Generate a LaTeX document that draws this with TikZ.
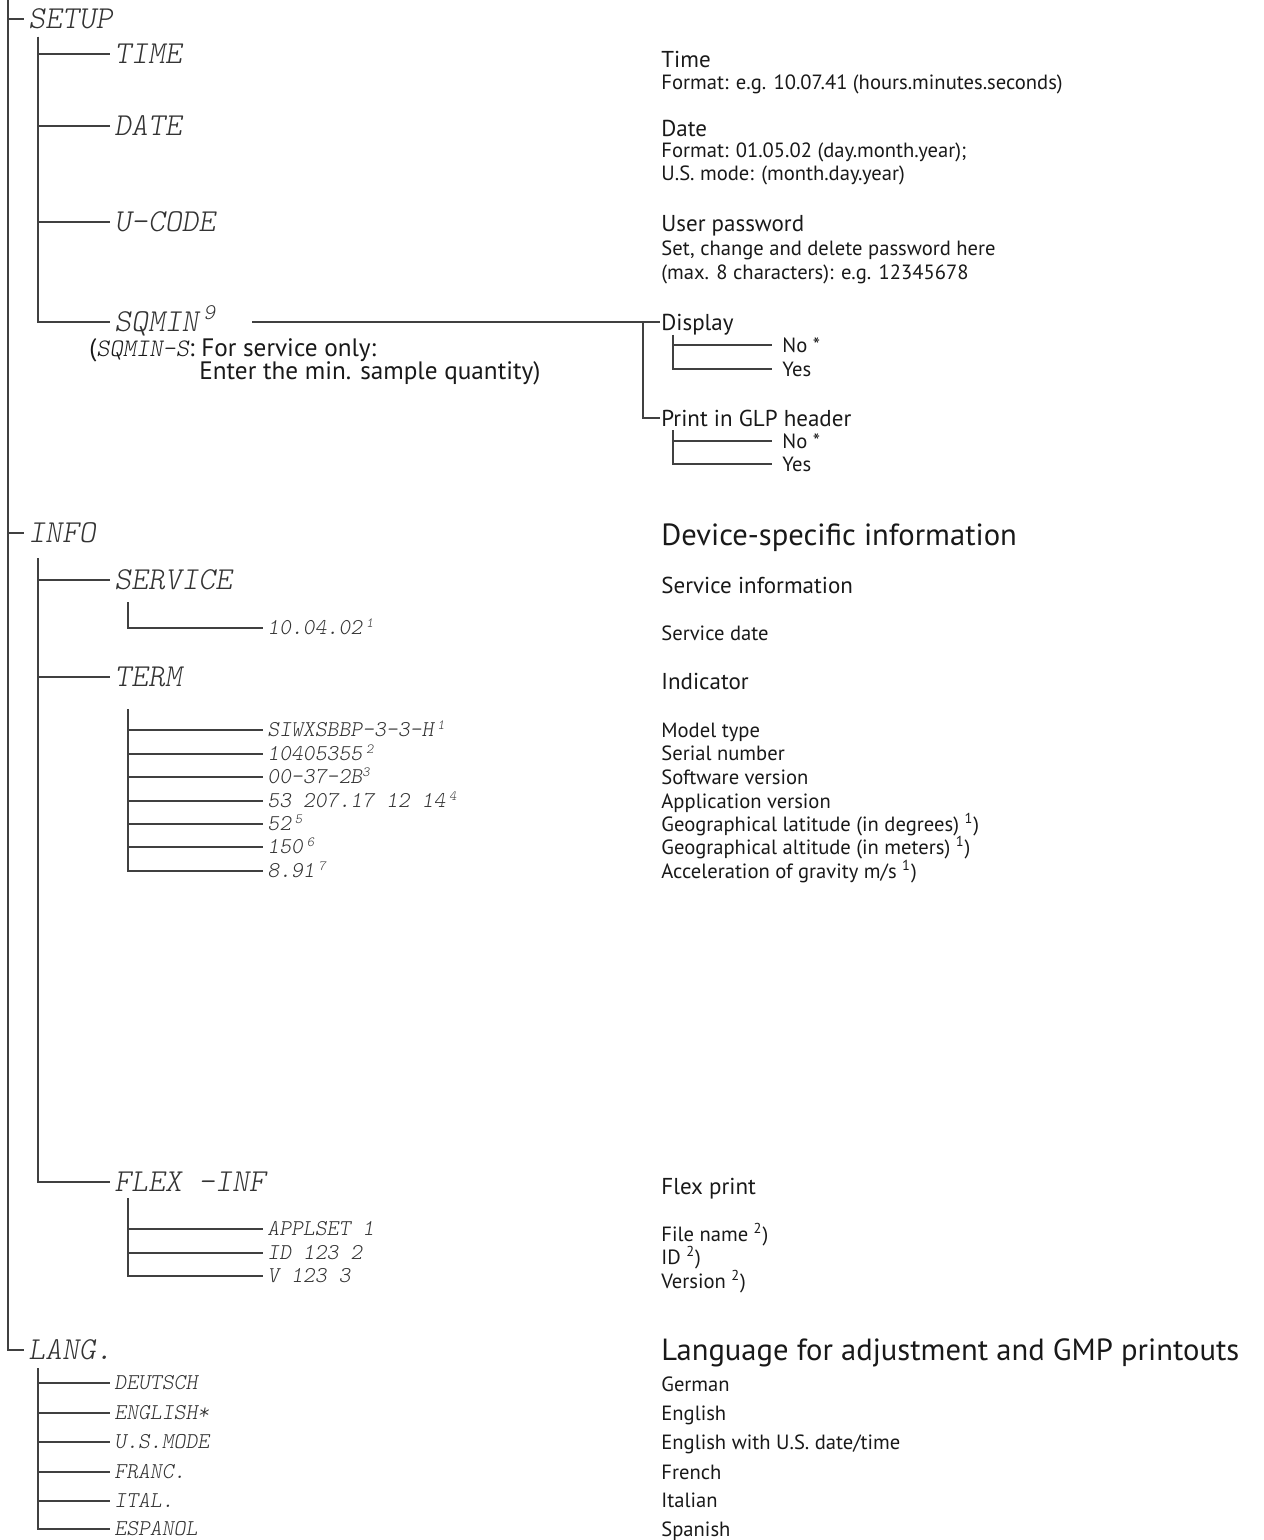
\documentclass[tikz,border=0pt]{standalone}
\usepackage{fontspec}
\setmainfont{PT Sans}
\newcommand\lcdin[1]{{\fontseries{l}\ttfamily\slshape #1}}
\newcommand\lcdsup[1]{\raisebox{0.75ex}{\fontsize{7}{7}\selectfont #1}}

\begin{document}
\begin{tikzpicture}[
  x=0.5pt, y=-0.5pt,
  tree/.style={line width=0.65pt, draw=black!75},
  lcd/.style={anchor=west, inner sep=2pt, text height=9.8pt, text depth=0pt, text=black!80,
    font=\fontseries{l}\ttfamily\slshape\fontsize{16}{16}\selectfont},
  lcdsmall/.style={lcd, text height=6.9pt, font=\fontseries{l}\ttfamily\slshape\fontsize{11.3}{11.3}\selectfont},
  desc/.style={anchor=west, inner sep=0.5pt, text height=7.2pt, text depth=0pt, text=black!90,
    font=\fontsize{10.3}{12}\selectfont},
  head/.style={desc, text height=8pt, font=\fontsize{11.5}{13}\selectfont},
  title/.style={desc, text height=10.7pt, font=\fontsize{15.3}{17}\selectfont},
  opt/.style={desc, inner xsep=5pt},
  note/.style={desc, text height=8.8pt, font=\fontsize{12.6}{14}\selectfont}
]
  \useasboundingbox (0,0) rectangle (1263,1540);

  % fixed points of the tree
  \coordinate (trunk) at (8,0);
  \coordinate (setupbar) at (38,37);
  \coordinate (infobar) at (38,558);
  \coordinate (servbar) at (128,602);
  \coordinate (termbar) at (128,709);
  \coordinate (flexbar) at (128,1198);
  \coordinate (langbar) at (38,1368);
  \coordinate (sqline) at (252,322);
  \coordinate (fork) at (643,322);
  \coordinate (dispbar) at (673,335);
  \coordinate (glpbar) at (673,430);

  % SETUP
  \node[lcd] (setup) at (24,19) {SETUP};
  \node[lcd] (time) at (110,54) {TIME};
  \node[lcd] (date) at (110,126) {DATE};
  \node[lcd] (ucode) at (110,222) {U-CODE};
  \node[lcd] (sqmin) at (110,322) {SQMIN\,\textsuperscript{9}};
  \node[note] (sqnote) at (88,348) {(\lcdin{SQMIN-S}: For service only:};
  \node[note] (sqnote2) at (198,371) {Enter the min. sample quantity)};

  \node[head] (timeh) at (660,60) {Time};
  \node[desc] (timed) at (660,82) {Format: e.g. 10.07.41 (hours.minutes.seconds)};
  \node[head] (dateh) at (660,129) {Date};
  \node[desc] (dated) at (660,150) {Format: 01.05.02 (day.month.year);};
  \node[desc] (dateus) at (660,173) {U.S. mode: (month.day.year)};
  \node[head] (pwh) at (660,224) {User password};
  \node[desc] (pwd) at (660,248) {Set, change and delete password here};
  \node[desc] (pwmax) at (660,272) {(max. 8 characters): e.g. 12345678};

  \node[head] (display) at (660,322) {Display};
  \node[opt] (dno) at (772,345) {No *};
  \node[opt] (dyes) at (772,369) {Yes};
  \node[head] (glp) at (660,418) {Print in GLP header};
  \node[opt] (gno) at (772,441) {No *};
  \node[opt] (gyes) at (772,464) {Yes};

  % INFO
  \node[lcd] (info) at (24,533) {INFO};
  \node[lcd] (service) at (110,580) {SERVICE};
  \node[lcdsmall] (sdate) at (263,628) {10.04.02\,\lcdsup{1}};
  \node[lcd] (term) at (110,677) {TERM};
  \node[lcdsmall] (model) at (263,730) {SIWXSBBP-3-3-H\,\lcdsup{1}};
  \node[lcdsmall] (serial) at (263,754) {10405355\,\lcdsup{2}};
  \node[lcdsmall] (softw) at (263,777) {00-37-2B\lcdsup{3}};
  \node[lcdsmall] (appv) at (263,801) {53 207.17 12 14\,\lcdsup{4}};
  \node[lcdsmall] (lat) at (263,824) {52\,\lcdsup{5}};
  \node[lcdsmall] (alt) at (263,847) {150\,\lcdsup{6}};
  \node[lcdsmall] (grav) at (263,871) {8.91\,\lcdsup{7}};
  \node[lcd] (flex) at (110,1182) {FLEX -INF};
  \node[lcdsmall] (appl) at (263,1229) {APPLSET 1};
  \node[lcdsmall] (flexid) at (263,1253) {ID 123 2};
  \node[lcdsmall] (flexv) at (263,1276) {V 123 3};

  \node[title] (infoh) at (660,535) {Device-specific information};
  \node[head] (servh) at (660,585) {Service information};
  \node[desc] (servd) at (660,633) {Service date};
  \node[head] (termh) at (660,681) {Indicator};
  \node[desc] (modeld) at (660,730) {Model type};
  \node[desc] (seriald) at (660,753) {Serial number};
  \node[desc] (softwd) at (660,777) {Software version};
  \node[desc] (appvd) at (660,801) {Application version};
  \node[desc] (latd) at (660,824) {Geographical latitude (in degrees) \textsuperscript{1})};
  \node[desc] (altd) at (660,847) {Geographical altitude (in meters) \textsuperscript{1})};
  \node[desc] (gravd) at (660,871) {Acceleration of gravity m/s \textsuperscript{1})};
  \node[head] (flexh) at (660,1186) {Flex print};
  \node[desc] (appld) at (660,1234) {File name \textsuperscript{2})};
  \node[desc] (flexidd) at (660,1257) {ID \textsuperscript{2})};
  \node[desc] (flexvd) at (660,1281) {Version \textsuperscript{2})};

  % LANG.
  \node[lcd] (lang) at (24,1350) {LANG.};
  \node[lcdsmall] (deutsch) at (110,1383) {DEUTSCH};
  \node[lcdsmall] (english) at (110,1413) {ENGLISH*};
  \node[lcdsmall] (usmode) at (110,1442) {U.S.MODE};
  \node[lcdsmall] (franc) at (110,1472) {FRANC.};
  \node[lcdsmall] (ital) at (110,1501) {ITAL.};
  \node[lcdsmall] (espanol) at (110,1529) {ESPANOL};

  \node[title] (langh) at (660,1350) {Language for adjustment and GMP printouts};
  \node[desc] (deutschd) at (660,1384) {German};
  \node[desc] (englishd) at (660,1413) {English};
  \node[desc] (usmoded) at (660,1442) {English with U.S. date/time};
  \node[desc] (francd) at (660,1472) {French};
  \node[desc] (itald) at (660,1500) {Italian};
  \node[desc] (espanold) at (660,1529) {Spanish};

  % connectors
  \draw[tree] (trunk) |- (setup.west);
  \draw[tree] (trunk) |- (info.west);
  \draw[tree] (trunk) |- (lang.west);

  \draw[tree] (setupbar) |- (time.west);
  \draw[tree] (setupbar) |- (date.west);
  \draw[tree] (setupbar) |- (ucode.west);
  \draw[tree] (setupbar) |- (sqmin.west);
  \draw[tree] (sqline) -- (fork) -- (display.west);
  \draw[tree] (fork) |- (glp.west);
  \draw[tree] (dispbar) |- (dno.west);
  \draw[tree] (dispbar) |- (dyes.west);
  \draw[tree] (glpbar) |- (gno.west);
  \draw[tree] (glpbar) |- (gyes.west);

  \draw[tree] (infobar) |- (service.west);
  \draw[tree] (infobar) |- (term.west);
  \draw[tree] (infobar) |- (flex.west);
  \draw[tree] (servbar) |- (sdate.west);
  \draw[tree] (termbar) |- (model.west);
  \draw[tree] (termbar) |- (serial.west);
  \draw[tree] (termbar) |- (softw.west);
  \draw[tree] (termbar) |- (appv.west);
  \draw[tree] (termbar) |- (lat.west);
  \draw[tree] (termbar) |- (alt.west);
  \draw[tree] (termbar) |- (grav.west);
  \draw[tree] (flexbar) |- (appl.west);
  \draw[tree] (flexbar) |- (flexid.west);
  \draw[tree] (flexbar) |- (flexv.west);

  \draw[tree] (langbar) |- (deutsch.west);
  \draw[tree] (langbar) |- (english.west);
  \draw[tree] (langbar) |- (usmode.west);
  \draw[tree] (langbar) |- (franc.west);
  \draw[tree] (langbar) |- (ital.west);
  \draw[tree] (langbar) |- (espanol.west);
\end{tikzpicture}
\end{document}
